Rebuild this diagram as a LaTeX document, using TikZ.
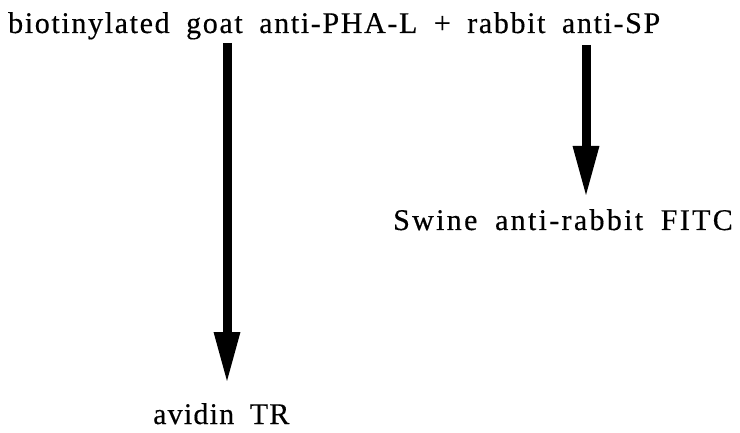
\documentclass[tikz,border=0pt]{standalone}
\usepackage{fontspec}
\setmainfont{Liberation Serif}[LetterSpace=5.5,WordSpace=1.8,FakeBold=0.4]
\usetikzlibrary{arrows.meta}
\begin{document}
\begin{tikzpicture}[x=1pt,y=-1pt,
  lbl/.style={inner sep=0pt,anchor=base west,font=\fontsize{30}{33}\selectfont},
  bigarrow/.style={line width=9pt,-{Triangle[length=52pt,width=24pt]}}]
\useasboundingbox (0,0) rectangle (740,433);
\node[lbl] (top) at (8,33) {biotinylated goat anti-PHA-L + rabbit anti-SP};
\node[lbl] (fitc) at (393,230) {\addfontfeatures{LetterSpace=7.7}Swine anti-rabbit FITC};
\node[lbl] (avidin) at (153,424) {\addfontfeatures{LetterSpace=4}avidin TR};
\coordinate (s1) at (227,43);
\coordinate (e1) at (227,384);
\coordinate (s2) at (586,45);
\coordinate (e2) at (586,198);
\draw[bigarrow] (s1) -- (e1);
\draw[bigarrow] (s2) -- (e2);
\end{tikzpicture}
\end{document}
